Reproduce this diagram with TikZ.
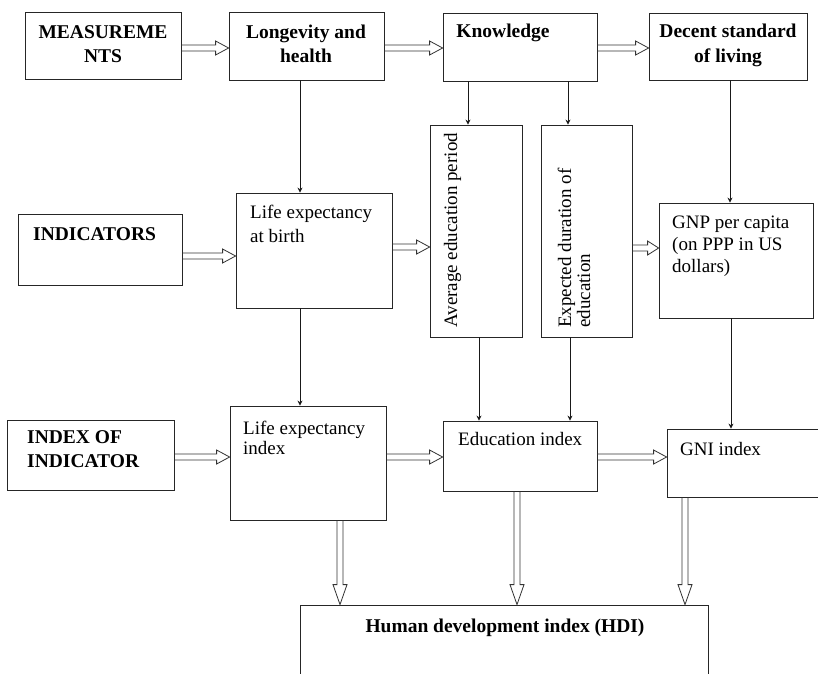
\documentclass[tikz,border=0pt]{standalone}
\usepackage{fontspec}
\setmainfont{Liberation Serif}
\usetikzlibrary{arrows.meta,calc}
\tikzset{
  box/.style={draw=black!85, line width=0.8pt, inner sep=0pt, anchor=center},
  txt/.style={inner sep=0pt, font=\fontsize{19}{22}\selectfont},
  btxt/.style={inner sep=0pt, font=\fontsize{19.5}{22}\selectfont\bfseries},
  sarrow/.style={draw=black!90, line width=1pt, -{Stealth[length=5pt,width=5pt]}},
  dline/.style={draw=black!80, line width=0.8pt, line join=miter}
}
% hollow double-line arrow: [head length]{start}{end}
\newcommand\dblarrow[3][13pt]{%
  \coordinate (da-s) at (#2);
  \coordinate (da-e) at (#3);
  \coordinate (da-b) at ($(da-e)!#1!(da-s)$);
  \draw[dline] ($(da-s)!3pt!-90:(da-b)$) -- ($(da-b)!3pt!90:(da-s)$)
     -- ($(da-b)!7pt!90:(da-s)$) -- (da-e) -- ($(da-b)!7pt!-90:(da-s)$)
     -- ($(da-b)!3pt!-90:(da-s)$) -- ($(da-s)!3pt!90:(da-b)$);
}
\begin{document}
\begin{tikzpicture}[x=1pt,y=-1pt]
\useasboundingbox (0,0) rectangle (818,673);
\fill[white] (0,0) rectangle (818,673);
\begin{scope}
\clip (0,0) rectangle (818,673);
% boxes
\node[box, minimum width=156pt, minimum height=67pt] (meas) at (103,45.5) {};
\node[box, minimum width=155pt, minimum height=68pt] (long) at (306.5,46) {};
\node[box, minimum width=154pt, minimum height=68pt] (know) at (520,47) {};
\node[box, minimum width=158pt, minimum height=67pt] (dec) at (728,46.5) {};
\node[box, minimum width=164pt, minimum height=71pt] (ind) at (100,249.5) {};
\node[box, minimum width=156pt, minimum height=115pt] (leb) at (314,250.5) {};
\node[box, minimum width=92pt, minimum height=212pt] (avg) at (476,231) {};
\node[box, minimum width=91pt, minimum height=212pt] (exp) at (586.5,231) {};
\node[box, minimum width=154pt, minimum height=115pt] (gnp) at (736,260.5) {};
\node[box, minimum width=167pt, minimum height=70pt] (ioi) at (90.5,455) {};
\node[box, minimum width=156pt, minimum height=114pt] (lei) at (308,463) {};
\node[box, minimum width=154pt, minimum height=70pt] (edu) at (520,456) {};
\node[box, minimum width=163pt, minimum height=68pt] (gni) at (748.5,463) {};
\node[box, minimum width=408pt, minimum height=95pt] (hdi) at (504,652.5) {};
% texts
\node[btxt, anchor=base] (tmeas1) at (103,38) {MEASUREME};
\node[btxt, anchor=base] (tmeas2) at (103,62) {NTS};
\node[btxt, anchor=base] (tlong1) at (306,38) {Longevity and};
\node[btxt, anchor=base] (tlong2) at (306,62) {health};
\node[btxt, anchor=base] (tknow) at (503,37) {Knowledge};
\node[btxt, anchor=base] (tdec1) at (728,37) {Decent standard};
\node[btxt, anchor=base] (tdec2) at (728,62) {of living};
\node[btxt, anchor=base west] (tind) at (33,240) {INDICATORS};
\node[txt, anchor=base west] (tleb1) at (250,218) {Life expectancy};
\node[txt, anchor=base west] (tleb2) at (250,242) {at birth};
\node[txt, anchor=base west, rotate=90] (tavg) at (457,328) {Average education period};
\node[txt, anchor=base west, rotate=90] (texp1) at (571,328) {Expected duration of};
\node[txt, anchor=base west, rotate=90] (texp2) at (590,328) {education};
\node[txt, anchor=base west] (tgnp1) at (672,228) {GNP per capita};
\node[txt, anchor=base west] (tgnp2) at (672,250) {(on PPP in US};
\node[txt, anchor=base west] (tgnp3) at (672,272) {dollars)};
\node[btxt, anchor=base west] (tioi1) at (27,443) {INDEX OF};
\node[btxt, anchor=base west] (tioi2) at (27,467) {INDICATOR};
\node[txt, anchor=base west] (tlei1) at (243,434) {Life expectancy};
\node[txt, anchor=base west] (tlei2) at (243,454) {index};
\node[txt, anchor=base west] (tedu) at (458,445) {Education index};
\node[txt, anchor=base west] (tgni) at (680,455) {GNI index};
\node[btxt, anchor=base] (thdi) at (505,632) {Human development index (HDI)};
% double arrows (horizontal)
\dblarrow{[yshift=-2.5pt]meas.east}{[yshift=-2.5pt]meas.east -| long.west}
\dblarrow{[yshift=-2pt]long.east}{[yshift=-2pt]long.east -| know.west}
\dblarrow{[yshift=-1pt]know.east}{[yshift=-1pt]know.east -| dec.west}
\dblarrow{[yshift=-6.5pt]ind.east}{[yshift=-6.5pt]ind.east -| leb.west}
\dblarrow{[yshift=3.5pt]leb.east}{[yshift=3.5pt]leb.east -| avg.west}
\dblarrow[11pt]{[yshift=-17pt]exp.east}{[yshift=-17pt]exp.east -| gnp.west}
\dblarrow{[yshift=-2pt]ioi.east}{[yshift=-2pt]ioi.east -| lei.west}
\dblarrow{[yshift=6pt]lei.east}{[yshift=6pt]lei.east -| edu.west}
\dblarrow{[yshift=-1pt]edu.east}{[yshift=-1pt]edu.east -| gni.west}
% double arrows (down to HDI)
\dblarrow[20pt]{[xshift=32pt]lei.south}{[xshift=32pt]lei.south |- hdi.north}
\dblarrow[20pt]{[xshift=-3pt]edu.south}{[xshift=-3pt]edu.south |- hdi.north}
\dblarrow[20pt]{[xshift=-63.5pt]gni.south}{[xshift=-63.5pt]gni.south |- hdi.north}
% single arrows
\draw[sarrow] ([xshift=-6.5pt]long.south) -- ([xshift=-6.5pt]long.south |- leb.north);
\draw[sarrow] ([xshift=-14pt]leb.south) -- ([xshift=-14pt]leb.south |- lei.north);
\draw[sarrow] ([xshift=-52pt]know.south) -- ([xshift=-52pt]know.south |- avg.north);
\draw[sarrow] ([xshift=48pt]know.south) -- ([xshift=48pt]know.south |- exp.north);
\draw[sarrow] ([xshift=2pt]dec.south) -- ([xshift=2pt]dec.south |- gnp.north);
\draw[sarrow] ([xshift=3pt]avg.south) -- ([xshift=3pt]avg.south |- edu.north);
\draw[sarrow] ([xshift=-16.5pt]exp.south) -- ([xshift=-16.5pt]exp.south |- edu.north);
\draw[sarrow] ([xshift=-5pt]gnp.south) -- ([xshift=-5pt]gnp.south |- gni.north);
\end{scope}
\end{tikzpicture}
\end{document}
